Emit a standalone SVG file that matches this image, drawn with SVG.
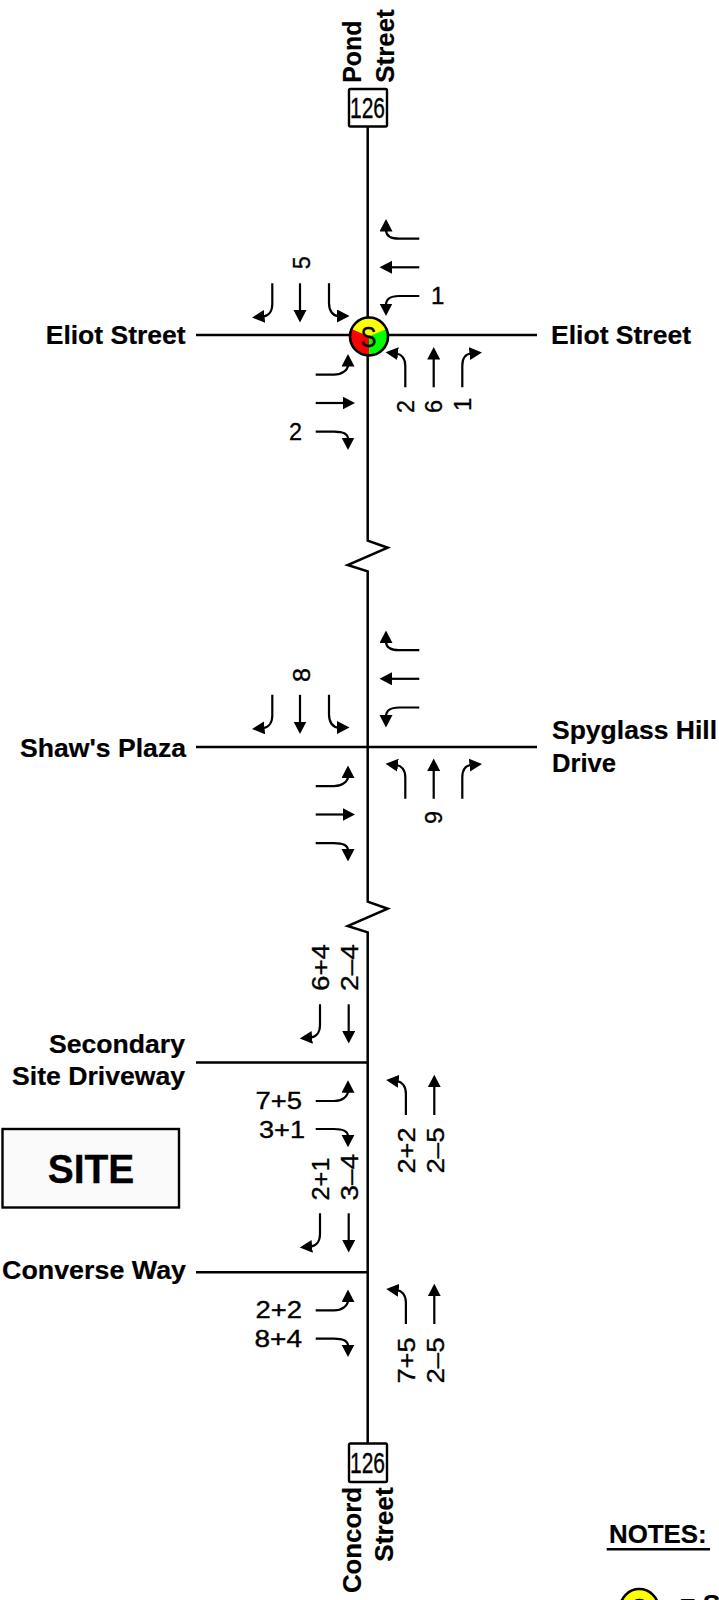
<svg xmlns="http://www.w3.org/2000/svg" xmlns:xlink="http://www.w3.org/1999/xlink" width="719" height="1600" viewBox="0 0 719 1600">
<style>
.road{fill:none;stroke:#000;stroke-width:2.500}
.arr{fill:none;stroke:#000;stroke-width:2.200;marker-end:url(#head)}
.b{font-family:"Liberation Sans",Arial,sans-serif;font-weight:700;font-size:26.500px;fill:#000;stroke:#000;stroke-width:.2px}
.n{font-family:"Liberation Sans",Arial,sans-serif;font-size:24px;fill:#000;stroke:#000;stroke-width:.35px}
.sh{font-family:"Liberation Sans",Arial,sans-serif;font-size:29.500px;fill:#000;stroke:#000;stroke-width:.35px}
.box{fill:#fff;stroke:#000;stroke-width:2.400}
</style>
<defs>
<marker id="head" markerUnits="userSpaceOnUse" markerWidth="14" markerHeight="14" refX="1.500" refY="6.500" orient="auto"><path d="M0 0L12.500 6.500L0 13z" fill="#000"/></marker>
<path id="wbR" class="arr" d="M419.3 238.7H399C391 238.7 386 236 386 230"/>
<path id="wbT" class="arr" d="M419.3 267.3H390.5"/>
<path id="wbL" class="arr" d="M419.3 296H399C391 296 386 299 386 305"/>
<path id="sbR" class="arr" d="M272.3 283.3V304C272.3 312 268 316 263 316.5"/>
<path id="sbT" class="arr" d="M300 283.3V311.5"/>
<path id="sbL" class="arr" d="M329 283.3V303C329 311 333 316 338.500 316"/>
<path id="nbL" class="arr" d="M405.3 387.3V366C405.3 358 401 354 396.500 353.500"/>
<path id="nbT" class="arr" d="M433.7 387.3V358"/>
<path id="nbR" class="arr" d="M462.3 387.3V366C462.3 358 466 354 471 353.500"/>
<path id="ebL" class="arr" d="M315.700 374.700H334C342 374.700 348 370 348 365"/>
<path id="ebT" class="arr" d="M315.700 403H344"/>
<path id="ebR" class="arr" d="M315.700 431.700H334C342 431.700 348 434 348 439"/>
</defs>
<g id="connectors">
<path class="road" d="M367.700 126.700V540.700L387.700 547.700L347.700 565L367.700 571.300V901.700L387.700 908.700L347.700 926L367.700 932.300V1443.300"/>
<path class="road" d="M196 335H537M196 747H537M196 1062.500H367.700M196 1272.300H367.700"/>
<g id="turns-1">
<use xlink:href="#wbR"/><use xlink:href="#wbT"/><use xlink:href="#wbL"/>
<use xlink:href="#sbR"/><use xlink:href="#sbT"/><use xlink:href="#sbL"/>
<use xlink:href="#nbL"/><use xlink:href="#nbT"/><use xlink:href="#nbR"/>
<use xlink:href="#ebL"/><use xlink:href="#ebT"/><use xlink:href="#ebR"/>
</g>
<g id="turns-2" transform="translate(0 411.500)">
<use xlink:href="#wbR"/><use xlink:href="#wbT"/><use xlink:href="#wbL"/>
<use xlink:href="#sbR"/><use xlink:href="#sbT"/><use xlink:href="#sbL"/>
<use xlink:href="#nbL"/><use xlink:href="#nbT"/><use xlink:href="#nbR"/>
<use xlink:href="#ebL"/><use xlink:href="#ebT"/><use xlink:href="#ebR"/>
</g>
<g id="turns-3">
<use xlink:href="#sbR" transform="translate(47.700 721)"/><use xlink:href="#sbT" transform="translate(48.700 721)"/>
<use xlink:href="#ebL" transform="translate(0 726.300)"/><use xlink:href="#ebR" transform="translate(0 697.300)"/>
<use xlink:href="#nbL" transform="translate(.600 727.700)"/><use xlink:href="#nbT" transform="translate(.600 727.700)"/>
</g>
<g id="turns-4">
<use xlink:href="#sbR" transform="translate(47.700 930)"/><use xlink:href="#sbT" transform="translate(48.700 930)"/>
<use xlink:href="#ebL" transform="translate(0 935.600)"/><use xlink:href="#ebR" transform="translate(0 907)"/>
<use xlink:href="#nbL" transform="translate(.600 936.700)"/><use xlink:href="#nbT" transform="translate(.600 936.700)"/>
</g>
</g>
<g id="signal">
<circle cx="369" cy="336.500" r="19" fill="#ff0"/>
<path d="M369 336.500L351.500 329A19 19 0 0 0 369 355.500z" fill="#f00"/>
<path d="M369 336.500L386.500 329A19 19 0 0 1 369 355.500z" fill="#0f0"/>
<circle cx="369" cy="336.500" r="19" fill="none" stroke="#000" stroke-width="2.600"/>
<text x="368.500" y="347" text-anchor="middle" class="sh" textLength="16" lengthAdjust="spacingAndGlyphs">S</text>
</g>
<g id="shield-north">
<rect class="box" x="349" y="89" width="38" height="37.500" rx="1.500"/>
<text class="sh" x="350" y="118.300" textLength="35" lengthAdjust="spacingAndGlyphs">126</text>
</g>
<g id="shield-south">
<rect class="box" x="349" y="1443.500" width="38" height="38.500" rx="1.500"/>
<text class="sh" x="350" y="1472.700" textLength="35" lengthAdjust="spacingAndGlyphs">126</text>
</g>
<g id="site">
<rect x="2.500" y="1129" width="176.500" height="78.500" fill="#fafafa" stroke="#000" stroke-width="2.400"/>
<text x="47.700" y="1183.300" font-family="Liberation Sans,Arial,sans-serif" font-weight="700" font-size="41" stroke="#000" stroke-width=".3" textLength="86.600" lengthAdjust="spacingAndGlyphs">SITE</text>
</g>
<g id="road-labels">
<text class="b" transform="translate(360.700 82.700) rotate(-90)" textLength="62" lengthAdjust="spacingAndGlyphs">Pond</text>
<text class="b" transform="translate(394 82.700) rotate(-90)" textLength="73.400" lengthAdjust="spacingAndGlyphs">Street</text>
<text class="b" transform="translate(360.700 1593) rotate(-90)" textLength="106" lengthAdjust="spacingAndGlyphs">Concord</text>
<text class="b" transform="translate(393.300 1561.700) rotate(-90)" textLength="74.400" lengthAdjust="spacingAndGlyphs">Street</text>
<text class="b" x="45.700" y="344.300" textLength="140" lengthAdjust="spacingAndGlyphs">Eliot Street</text>
<text class="b" x="551" y="344.300" textLength="140" lengthAdjust="spacingAndGlyphs">Eliot Street</text>
<text class="b" x="20" y="756.700" textLength="166" lengthAdjust="spacingAndGlyphs">Shaw's Plaza</text>
<text class="b" x="552" y="739.300" textLength="165" lengthAdjust="spacingAndGlyphs">Spyglass Hill</text>
<text class="b" x="552" y="772.300" textLength="64" lengthAdjust="spacingAndGlyphs">Drive</text>
<text class="b" x="49" y="1053" textLength="136" lengthAdjust="spacingAndGlyphs">Secondary</text>
<text class="b" x="12" y="1085" textLength="173" lengthAdjust="spacingAndGlyphs">Site Driveway</text>
<text class="b" x="2" y="1279" textLength="184" lengthAdjust="spacingAndGlyphs">Converse Way</text>
</g>
<g id="volumes">
<text class="n" transform="translate(310 269.300) rotate(-90)" textLength="13" lengthAdjust="spacingAndGlyphs">5</text>
<text class="n" x="431" y="304.300">1</text>
<text class="n" transform="translate(414.300 413) rotate(-90)" textLength="13" lengthAdjust="spacingAndGlyphs">2</text>
<text class="n" transform="translate(442.300 413) rotate(-90)" textLength="13" lengthAdjust="spacingAndGlyphs">6</text>
<text class="n" transform="translate(470.700 411) rotate(-90)">1</text>
<text class="n" x="289" y="440" textLength="13" lengthAdjust="spacingAndGlyphs">2</text>
<text class="n" transform="translate(310 682) rotate(-90)" textLength="14" lengthAdjust="spacingAndGlyphs">8</text>
<text class="n" transform="translate(442.300 824) rotate(-90)" textLength="13" lengthAdjust="spacingAndGlyphs">9</text>
<text class="n" transform="translate(329 991) rotate(-90)" textLength="47" lengthAdjust="spacingAndGlyphs">6+4</text>
<text class="n" transform="translate(358.300 991) rotate(-90)" textLength="47" lengthAdjust="spacingAndGlyphs">2–4</text>
<text class="n" x="255.500" y="1109.300" textLength="46.500" lengthAdjust="spacingAndGlyphs">7+5</text>
<text class="n" x="259" y="1138.300" textLength="46" lengthAdjust="spacingAndGlyphs">3+1</text>
<text class="n" transform="translate(329 1200.500) rotate(-90)" textLength="43" lengthAdjust="spacingAndGlyphs">2+1</text>
<text class="n" transform="translate(358.300 1200.500) rotate(-90)" textLength="46.500" lengthAdjust="spacingAndGlyphs">3–4</text>
<text class="n" transform="translate(415 1173.500) rotate(-90)" textLength="46" lengthAdjust="spacingAndGlyphs">2+2</text>
<text class="n" transform="translate(444 1173.500) rotate(-90)" textLength="46" lengthAdjust="spacingAndGlyphs">2–5</text>
<text class="n" x="255.500" y="1318.300" textLength="46.500" lengthAdjust="spacingAndGlyphs">2+2</text>
<text class="n" x="254.500" y="1347.300" textLength="47.500" lengthAdjust="spacingAndGlyphs">8+4</text>
<text class="n" transform="translate(415 1383.500) rotate(-90)" textLength="46" lengthAdjust="spacingAndGlyphs">7+5</text>
<text class="n" transform="translate(444 1383.500) rotate(-90)" textLength="46" lengthAdjust="spacingAndGlyphs">2–5</text>
</g>
<g id="notes">
<text class="b" x="609" y="1543.300" textLength="97.700" lengthAdjust="spacingAndGlyphs">NOTES:</text>
<path d="M606.700 1549.300H710" stroke="#000" stroke-width="2.400"/>
<circle cx="639.300" cy="1608" r="19" fill="#ff0" stroke="#000" stroke-width="2.600"/>
<text x="639.300" y="1618.500" text-anchor="middle" class="sh" textLength="16" lengthAdjust="spacingAndGlyphs">S</text>
<text class="b" x="680" y="1613">= S</text>
</g>
</svg>
